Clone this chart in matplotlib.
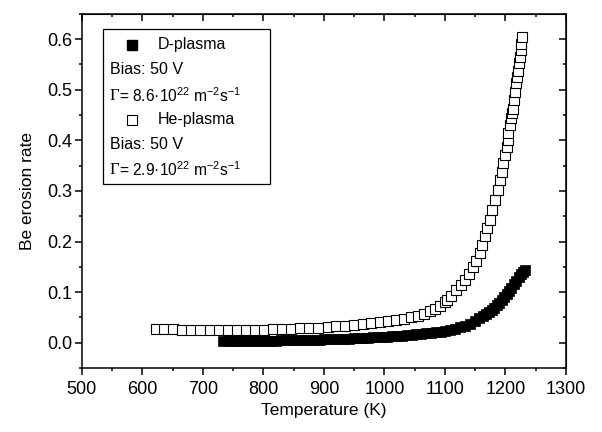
import matplotlib
matplotlib.use("Agg")
import matplotlib.pyplot as plt
from matplotlib.patches import Rectangle
from matplotlib.ticker import MultipleLocator

plt.rcParams["font.family"] = ["Liberation Sans", "DejaVu Sans"]
plt.rcParams["mathtext.fontset"] = "custom"
plt.rcParams["mathtext.rm"] = "Liberation Sans"
plt.rcParams["mathtext.it"] = "Liberation Sans:italic"

# He-plasma, open squares (temperature in K, erosion rate)
he_temp = [622, 636, 651, 666, 681, 696, 711, 726, 741, 756, 771, 786, 801, 816,
           831, 846, 861, 876, 891, 906, 920, 935, 950, 964, 978, 992, 1006, 1019,
           1032, 1044, 1055, 1066, 1076, 1084, 1092, 1100, 1103, 1110, 1119, 1126,
           1133, 1140, 1147, 1152, 1158, 1162, 1166, 1170, 1174, 1178, 1183, 1187,
           1191, 1194, 1196, 1199, 1202, 1204, 1205, 1207, 1209, 1211, 1212, 1214,
           1216, 1217, 1219, 1221, 1222, 1224, 1225, 1226, 1227]
he_rate = [0.028, 0.027, 0.027, 0.026, 0.026, 0.025, 0.025, 0.025, 0.025, 0.025,
           0.025, 0.026, 0.026, 0.027, 0.027, 0.028, 0.029, 0.029, 0.030, 0.031,
           0.033, 0.034, 0.035, 0.037, 0.039, 0.041, 0.043, 0.045, 0.047, 0.050,
           0.053, 0.057, 0.062, 0.067, 0.072, 0.080, 0.085, 0.093, 0.105, 0.114,
           0.124, 0.136, 0.150, 0.161, 0.177, 0.193, 0.210, 0.226, 0.243, 0.262,
           0.282, 0.301, 0.321, 0.338, 0.355, 0.371, 0.387, 0.401, 0.414, 0.430,
           0.444, 0.455, 0.462, 0.479, 0.496, 0.513, 0.525, 0.538, 0.552, 0.565,
           0.578, 0.590, 0.604]

# D-plasma, filled squares
d_temp = [733, 741, 749, 757, 765, 773, 781, 789, 797, 805, 813, 821, 829, 837,
          845, 853, 861, 869, 877, 885, 893, 901, 909, 917, 925, 933, 941, 949,
          957, 965, 973, 981, 989, 997, 1005, 1013, 1021, 1029, 1037, 1045, 1053,
          1061, 1069, 1077, 1085, 1093, 1101, 1109, 1117, 1125, 1133, 1141, 1149,
          1157, 1163, 1168, 1173, 1178, 1182, 1186, 1190, 1194, 1198, 1202, 1206,
          1210, 1214, 1218, 1222, 1226, 1229, 1232]
d_rate = [0.003, 0.003, 0.003, 0.003, 0.003, 0.003, 0.004, 0.004, 0.004, 0.004,
          0.004, 0.004, 0.005, 0.005, 0.005, 0.005, 0.005, 0.006, 0.006, 0.006,
          0.006, 0.007, 0.007, 0.007, 0.008, 0.008, 0.008, 0.009, 0.009, 0.010,
          0.010, 0.011, 0.011, 0.012, 0.012, 0.013, 0.014, 0.014, 0.015, 0.016,
          0.017, 0.018, 0.019, 0.020, 0.021, 0.022, 0.024, 0.026, 0.028, 0.031,
          0.034, 0.038, 0.043, 0.048, 0.052, 0.056, 0.060, 0.065, 0.069, 0.074,
          0.079, 0.084, 0.090, 0.096, 0.102, 0.109, 0.116, 0.123, 0.130, 0.136,
          0.140, 0.143]

assert len(he_temp) == len(he_rate) and len(d_temp) == len(d_rate)

fig = plt.figure(figsize=(6.02, 4.32), dpi=100)
ax = fig.add_axes([0.136, 0.148, 0.804, 0.820])

ax.plot(he_temp, he_rate, "s", mfc="white", mec="black", ms=6.5, mew=0.8)
ax.plot(d_temp, d_rate, "s", color="black", ms=6.5, mew=0.5)

ax.set_xlim(500, 1300)
ax.set_ylim(-0.05, 0.65)
ax.xaxis.set_major_locator(MultipleLocator(100))
ax.xaxis.set_minor_locator(MultipleLocator(50))
ax.yaxis.set_major_locator(MultipleLocator(0.1))
ax.yaxis.set_minor_locator(MultipleLocator(0.05))
ax.tick_params(which="both", direction="out", width=1.1, labelsize=13)
ax.tick_params(which="major", length=5)
ax.tick_params(which="minor", length=2.5)
ax.tick_params(axis="y", pad=2)
ax.tick_params(axis="x", pad=4)
for s in ax.spines.values():
    s.set_linewidth(1.1)

# mirrored ticks on top and right point inwards
top = ax.secondary_xaxis("top")
top.xaxis.set_major_locator(MultipleLocator(100))
top.xaxis.set_minor_locator(MultipleLocator(50))
top.tick_params(which="both", direction="in", width=1.1, labeltop=False)
top.tick_params(which="major", length=5)
top.tick_params(which="minor", length=2.5)
right = ax.secondary_yaxis("right")
right.yaxis.set_major_locator(MultipleLocator(0.1))
right.yaxis.set_minor_locator(MultipleLocator(0.05))
right.tick_params(which="both", direction="in", width=1.1, labelright=False)
right.tick_params(which="major", length=5)
right.tick_params(which="minor", length=2.5)

ax.set_xlabel("Temperature (K)", fontsize=12.5, labelpad=4)
ax.set_ylabel("Be erosion rate", fontsize=12.5, labelpad=9)

# hand-made legend box
ax.add_patch(Rectangle((0.043, 0.52), 0.345, 0.437, transform=ax.transAxes,
                       fill=False, lw=0.9, ec="black", zorder=5))
fs = 11.5
ax.plot([0.103], [0.912], "s", color="black", ms=6.5, transform=ax.transAxes)
ax.text(0.157, 0.912, "D-plasma", transform=ax.transAxes, va="center", fontsize=fs)
ax.text(0.059, 0.842, "Bias: 50 V", transform=ax.transAxes, va="center", fontsize=fs)
ax.text(0.057, 0.768, "Γ", transform=ax.transAxes, va="center", fontsize=fs + 0.5,
        family="Liberation Serif")
ax.text(0.076, 0.768, "= 8.6·10$^{22}$ m$^{-2}$s$^{-1}$", transform=ax.transAxes,
        va="center", fontsize=fs - 0.3)
ax.plot([0.103], [0.701], "s", mfc="white", mec="black", ms=6.5, mew=0.8,
        transform=ax.transAxes)
ax.text(0.157, 0.701, "He-plasma", transform=ax.transAxes, va="center", fontsize=fs)
ax.text(0.059, 0.630, "Bias: 50 V", transform=ax.transAxes, va="center", fontsize=fs)
ax.text(0.057, 0.559, "Γ", transform=ax.transAxes, va="center", fontsize=fs + 0.5,
        family="Liberation Serif")
ax.text(0.076, 0.559, "= 2.9·10$^{22}$ m$^{-2}$s$^{-1}$", transform=ax.transAxes,
        va="center", fontsize=fs - 0.3)

fig.savefig("out.png", dpi=100)
